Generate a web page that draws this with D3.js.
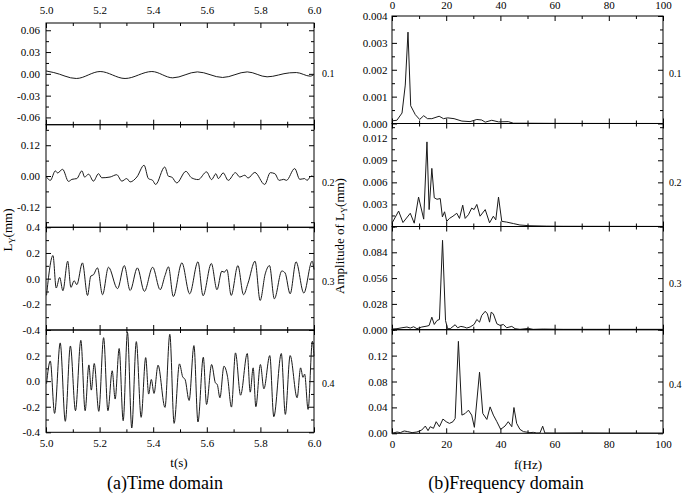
<!DOCTYPE html>
<html><head><meta charset="utf-8">
<script src="https://cdn.jsdelivr.net/npm/d3@7"></script>
<style>body{margin:0;background:#fff}</style>
</head><body>
<script>
// ---------- data ----------
const timeTickLabels = [5.0, 5.2, 5.4, 5.6, 5.8, 6.0];
const freqTickLabels = [0, 20, 40, 60, 80, 100];
const rowLabels = ["0.1", "0.2", "0.3", "0.4"];
const timeYTicks = [[-0.06,-0.03,0,0.03,0.06],[-0.12,0,0.12],[-0.4,-0.2,0,0.2,0.4],[-0.4,-0.2,0,0.2]];
const freqYTicks = [[0,0.001,0.002,0.003,0.004],[0,0.003,0.006,0.009,0.012],[0,0.028,0.056,0.084],[0,0.04,0.08,0.12]];

const time01 = [[5.000,0.0040],[5.029,0.0018],[5.113,-0.0064],[5.202,0.0032],[5.295,-0.0064],[5.395,0.0032],[5.473,-0.0055],[5.565,0.0027],[5.659,-0.0050],[5.751,0.0027],[5.825,-0.0041],[5.909,0.0014],[5.934,0.0018],[5.986,-0.0032],[6.000,-0.0009]];
const time02 = [[5.002,-0.004],[5.016,-0.017],[5.035,0.020],[5.043,0.012],[5.062,0.026],[5.084,-0.021],[5.097,-0.013],[5.115,-0.010],[5.134,0.020],[5.144,-0.004],[5.159,0.007],[5.177,-0.020],[5.196,0.009],[5.208,-0.007],[5.239,-0.004],[5.264,0.005],[5.283,-0.020],[5.301,-0.010],[5.314,-0.023],[5.339,-0.004],[5.366,0.042],[5.382,-0.010],[5.398,-0.017],[5.409,-0.033],[5.443,0.035],[5.457,-0.001],[5.469,-0.004],[5.488,-0.027],[5.522,0.018],[5.543,-0.007],[5.568,-0.014],[5.599,0.016],[5.618,-0.014],[5.634,0.009],[5.643,-0.010],[5.661,0.012],[5.680,-0.017],[5.707,0.013],[5.723,-0.004],[5.742,0.003],[5.754,-0.008],[5.779,0.014],[5.816,-0.033],[5.837,0.013],[5.854,0.009],[5.870,-0.017],[5.887,-0.013],[5.897,-0.017],[5.928,0.029],[5.947,-0.013],[5.965,-0.010],[5.974,-0.017],[5.990,0.000],[6.000,-0.004]];
const time03 = [[5.002,-0.130],[5.026,0.180],[5.038,-0.073],[5.051,0.010],[5.063,-0.094],[5.081,0.136],[5.093,-0.068],[5.105,-0.016],[5.115,-0.047],[5.136,0.123],[5.155,-0.131],[5.167,0.020],[5.177,0.030],[5.192,0.084],[5.211,-0.125],[5.233,0.089],[5.267,-0.078],[5.292,0.102],[5.314,-0.092],[5.341,0.084],[5.367,-0.099],[5.398,0.089],[5.426,-0.086],[5.444,0.024],[5.457,0.092],[5.475,-0.139],[5.507,0.123],[5.536,-0.118],[5.567,0.131],[5.586,-0.133],[5.617,0.118],[5.638,-0.086],[5.656,0.058],[5.665,0.050],[5.675,0.071],[5.691,-0.131],[5.716,0.102],[5.737,-0.125],[5.754,-0.034],[5.780,0.136],[5.799,-0.170],[5.818,0.037],[5.834,0.102],[5.852,-0.157],[5.880,0.060],[5.892,0.045],[5.911,-0.118],[5.933,0.131],[5.962,-0.112],[5.993,0.136],[6.000,0.071]];
const time04 = [[5.002,-0.020],[5.016,0.158],[5.032,-0.252],[5.053,0.299],[5.072,-0.314],[5.091,0.275],[5.110,-0.231],[5.130,0.319],[5.146,-0.231],[5.160,0.127],[5.169,-0.070],[5.180,0.138],[5.197,-0.236],[5.215,0.340],[5.231,-0.231],[5.247,0.081],[5.258,-0.140],[5.273,0.255],[5.288,-0.309],[5.304,0.382],[5.320,-0.366],[5.337,0.309],[5.355,-0.283],[5.372,0.184],[5.383,-0.101],[5.393,0.013],[5.403,-0.096],[5.418,0.125],[5.444,-0.205],[5.462,0.366],[5.478,-0.330],[5.498,0.135],[5.510,0.034],[5.519,0.013],[5.534,-0.151],[5.552,0.278],[5.567,-0.319],[5.587,0.187],[5.599,-0.182],[5.618,0.130],[5.632,-0.013],[5.639,-0.026],[5.649,-0.130],[5.664,0.117],[5.677,0.039],[5.692,-0.203],[5.707,0.221],[5.726,-0.110],[5.751,0.216],[5.762,-0.086],[5.773,0.104],[5.783,-0.200],[5.800,0.130],[5.813,-0.060],[5.835,0.200],[5.850,-0.278],[5.878,0.216],[5.893,-0.260],[5.911,0.200],[5.937,-0.130],[5.950,0.104],[5.959,0.030],[5.965,0.055],[5.978,-0.221],[5.994,0.312],[6.000,0.195]];

const spec01 = [[0,0.0001],[1.8,0.00012],[3.7,0.00039],[4.9,0.00143],[5.9,0.0034],[6.9,0.00066],[8.6,0.00033],[10.2,0.00015],[11.7,0.00029],[13.1,0.00018],[14.7,0.00018],[17.4,0.00027],[19.0,0.00018],[20.5,0.00021],[22.9,0.00018],[25.8,0.00009],[28.8,0.00007],[31.3,0.00015],[33.1,0.00013],[34.4,0.00005],[36.8,0.00012],[39.3,0.00006],[42.9,0.00007],[44.8,0.00001],[50,0.00001],[60,0.000005],[70,0.000003],[80,0.000002],[90,0.000002],[100,0.000001]];
const spec02 = [[0,0.00045],[2.45,0.0021],[4.05,0.00054],[6.75,0.0018],[8.2,0.00045],[9.8,0.0040],[11.7,0.0010],[12.9,0.0115],[13.7,0.0023],[14.7,0.0079],[15.6,0.0039],[16.6,0.0037],[17.8,0.0038],[18.6,0.0013],[19.4,0.0020],[20.2,0.0007],[21.2,0.0011],[22.5,0.0014],[23.9,0.0018],[24.9,0.0011],[26.1,0.0029],[27.0,0.0011],[28.2,0.0016],[29.4,0.0025],[30.3,0.0023],[31.3,0.0030],[32.5,0.0014],[34.4,0.0023],[36.0,0.0005],[37.4,0.0014],[38.3,0.0009],[39.3,0.0040],[40.5,0.0007],[42.3,0.0006],[44.8,0.0004],[47.2,0.0002],[50.9,0.0001],[57.1,0.00005],[63.2,0.00003],[80,0.00002],[100,0.00001]];
const spec03 = [[0,0.0007],[1.84,0.0011],[3.68,0.0021],[5.52,0.0029],[6.75,0.0018],[7.98,0.0032],[9.2,0.0011],[11.0,0.0029],[12.9,0.0039],[13.7,0.0046],[14.7,0.0136],[15.6,0.0057],[16.6,0.0100],[17.5,0.0111],[18.65,0.0970],[19.75,0.0100],[20.5,0.0011],[21.5,0.0011],[23.3,0.0054],[24.2,0.0021],[25.4,0.0036],[26.6,0.0029],[27.6,0.0018],[28.8,0.0029],[30.3,0.0057],[31.3,0.0111],[32.3,0.0082],[33.1,0.0154],[34.4,0.0200],[35.2,0.0172],[36.0,0.0082],[36.6,0.0190],[37.4,0.0172],[38.7,0.0064],[39.9,0.0046],[41.1,0.0057],[42.3,0.0021],[44.2,0.0036],[45.4,0.0011],[47.2,0.0004],[50.3,0.0014],[52.1,0.0004],[55.8,0.0007],[63.2,0.0004],[75.5,0.0004],[100,0.0004]];
const spec04 = [[0,0.0],[1.84,0.0020],[3.07,0.0010],[4.5,0.0036],[5.8,0.0026],[7.4,0.0010],[9.2,0.0020],[11.0,0.0051],[12.3,0.0112],[13.3,0.0041],[14.1,0.0102],[15.3,0.0077],[16.3,0.0179],[17.5,0.0102],[18.8,0.0220],[20.0,0.0179],[21.2,0.0153],[22.5,0.0179],[23.3,0.0230],[24.5,0.1420],[25.8,0.0281],[27.0,0.0306],[28.2,0.0357],[29.4,0.0281],[30.4,0.0092],[32.3,0.0944],[33.5,0.0306],[35.0,0.0214],[36.2,0.0408],[37.4,0.0281],[38.7,0.0179],[40.1,0.0061],[41.7,0.0112],[42.9,0.0179],[44.2,0.0102],[45.0,0.0398],[46.0,0.0153],[47.2,0.0061],[48.5,0.0026],[50.9,0.0010],[52.1,0.0015],[53.4,0.0005],[54.6,0.0005],[55.6,0.0110],[56.4,0.0005],[60,0.0003],[70,0.0005],[80,0.0003],[90,0.0003],[100,0.0002]];

// ---------- drawing ----------
const FONT = "'Liberation Serif','Times New Roman',Times,serif";
const svg = d3.select("body").append("svg").attr("width", 685).attr("height", 495)
  .style("font-family", FONT);
svg.append("rect").attr("width", 685).attr("height", 495).attr("fill", "#fff");

const xT = d3.scaleLinear().domain([5, 6]).range([46, 314]);
const xF = d3.scaleLinear().domain([0, 100]).range([392, 663]);

function minorTicks(dom, step, majors) {
  const out = [];
  const start = Math.ceil(dom[0] / step - 1e-9);
  const end = Math.floor(dom[1] / step + 1e-9);
  for (let i = start; i <= end; i++) {
    const v = i * step;
    if (!majors.some(m => Math.abs(m - v) < step * 0.1)) out.push(v);
  }
  return out;
}

function panel(c) {
  const y = d3.scaleLinear().domain(c.dom).range([c.bottom, c.top]);
  const x = c.x;
  const [x0, x1] = x.range();
  const g = svg.append("g");
  const minors = minorTicks(c.dom, c.minorStep, c.majors);
  const xMajors = c.xMajors;
  const xMinors = minorTicks(x.domain(), c.xMinorStep, xMajors);
  const none = () => "";

  g.append("g").attr("transform", `translate(${x0},0)`)
    .call(d3.axisLeft(y).tickValues(c.majors).tickSizeInner(-5).tickSizeOuter(0).tickPadding(c.yPad).tickFormat(c.fmt));
  g.append("g").attr("transform", `translate(${x0},0)`)
    .call(d3.axisLeft(y).tickValues(minors).tickSizeInner(-3).tickSizeOuter(0).tickFormat(none));
  g.append("g").attr("transform", `translate(${x1},0)`)
    .call(d3.axisRight(y).tickValues(c.majors).tickSizeInner(-5).tickSizeOuter(0).tickFormat(none));
  g.append("g").attr("transform", `translate(${x1},0)`)
    .call(d3.axisRight(y).tickValues(minors).tickSizeInner(-3).tickSizeOuter(0).tickFormat(none));

  g.append("g").attr("transform", `translate(0,${c.top})`)
    .call(d3.axisTop(x).tickValues(xMajors).tickSizeInner(-5).tickSizeOuter(0).tickPadding(c.topPad)
      .tickFormat(c.showTop ? c.xFmt : none));
  g.append("g").attr("transform", `translate(0,${c.top})`)
    .call(d3.axisTop(x).tickValues(xMinors).tickSizeInner(-3).tickSizeOuter(0).tickFormat(none));
  g.append("g").attr("transform", `translate(0,${c.bottom})`)
    .call(d3.axisBottom(x).tickValues(xMajors).tickSizeInner(-5).tickSizeOuter(0).tickPadding(c.botPad)
      .tickFormat(c.showBottom ? c.xFmt : none));
  g.append("g").attr("transform", `translate(0,${c.bottom})`)
    .call(d3.axisBottom(x).tickValues(xMinors).tickSizeInner(-3).tickSizeOuter(0).tickFormat(none));

  g.selectAll(".domain").remove();
  g.selectAll(".tick line").attr("stroke", "#000").attr("stroke-width", 1);
  g.selectAll(".tick text").attr("font-family", FONT).attr("font-size", 11).attr("fill", "#000");

  g.append("rect").attr("x", x0).attr("y", c.top).attr("width", x1 - x0).attr("height", c.bottom - c.top)
    .attr("fill", "none").attr("stroke", "#000").attr("stroke-width", 1);

  g.append("path").datum(c.data)
    .attr("d", d3.line().x(d => x(d[0])).y(d => y(d[1])).curve(c.curve))
    .attr("fill", "none").attr("stroke", "#1a1a1a").attr("stroke-width", 1);
}

const f2 = d => d.toFixed(2), f1 = d => d.toFixed(1), f3 = d => d.toFixed(3);
const timeData = [time01, time02, time03, time04];
const specData = [spec01, spec02, spec03, spec04];

const leftRows = [
  {top: 23, bottom: 124.7, dom: [-0.07, 0.07], minorStep: 0.015, fmt: f2},
  {top: 124.7, bottom: 227.3, dom: [-0.2, 0.2], minorStep: 0.06, fmt: f2},
  {top: 227.3, bottom: 330, dom: [-0.4, 0.4], minorStep: 0.1, fmt: f1},
  {top: 330, bottom: 432.3, dom: [-0.4, 0.4], minorStep: 0.1, fmt: f1}
];
const rightRows = [
  {top: 16, bottom: 123.5, dom: [0, 0.004], minorStep: 0.0005, fmt: f3},
  {top: 123.5, bottom: 226.5, dom: [0, 0.014], minorStep: 0.0015, fmt: f3},
  {top: 226.5, bottom: 329.7, dom: [0, 0.112], minorStep: 0.014, fmt: f3},
  {top: 329.7, bottom: 433.3, dom: [0, 0.16], minorStep: 0.02, fmt: f2}
];

leftRows.forEach((r, i) => panel(Object.assign({}, r, {
  x: xT, majors: timeYTicks[i], data: timeData[i], curve: d3.curveMonotoneX,
  xMajors: timeTickLabels, xMinorStep: 0.1, xFmt: f1,
  showTop: i === 0, showBottom: i === 3, yPad: 6, topPad: 9.4, botPad: 6.6
})));
rightRows.forEach((r, i) => panel(Object.assign({}, r, {
  x: xF, majors: freqYTicks[i], data: specData[i], curve: d3.curveLinear,
  xMajors: freqTickLabels, xMinorStep: 10, xFmt: d => String(d),
  showTop: i === 0, showBottom: i === 3, yPad: 4.5, topPad: 6.7, botPad: 7.2
})));

// row labels
const leftRowY = [76.5, 186, 285, 386.5];
const rightRowY = [76.5, 185.5, 286.5, 388];
rowLabels.forEach((t, i) => {
  svg.append("text").attr("x", 322).attr("y", leftRowY[i]).attr("font-size", 10).text(t);
  svg.append("text").attr("x", 669).attr("y", rightRowY[i]).attr("font-size", 10).text(t);
});

// axis titles
const yl = svg.append("text").attr("transform", "translate(12,230) rotate(-90)")
  .attr("text-anchor", "middle").attr("font-size", 13);
yl.append("tspan").text("L");
yl.append("tspan").attr("font-size", 8.5).attr("dy", 3).text("Y");
yl.append("tspan").attr("dy", -3).text("(mm)");

const yr = svg.append("text").attr("transform", "translate(344,236) rotate(-90)")
  .attr("text-anchor", "middle").attr("font-size", 13);
yr.append("tspan").text("Amplitude of L");
yr.append("tspan").attr("font-size", 8.5).attr("dy", 3).text("Y");
yr.append("tspan").attr("dy", -3).text("(mm)");

svg.append("text").attr("x", 179).attr("y", 467).attr("text-anchor", "middle").attr("font-size", 13).text("t(s)");
svg.append("text").attr("x", 528).attr("y", 469).attr("text-anchor", "middle").attr("font-size", 13).text("f(Hz)");
svg.append("text").attr("x", 165).attr("y", 489).attr("text-anchor", "middle").attr("font-size", 18).text("(a)Time domain");
svg.append("text").attr("x", 506).attr("y", 489).attr("text-anchor", "middle").attr("font-size", 18).text("(b)Frequency domain");
</script>
</body></html>
